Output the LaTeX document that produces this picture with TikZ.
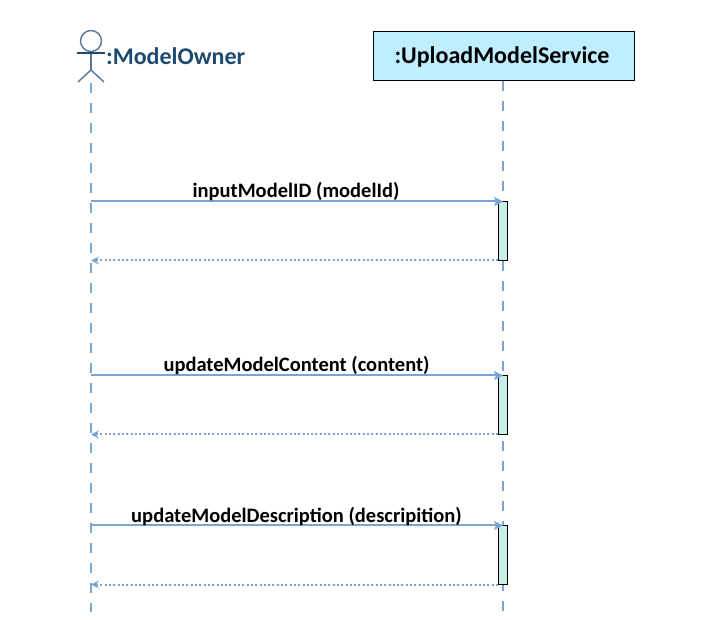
\documentclass[tikz,border=0pt]{standalone}
\usepackage{fontspec}
\setmainfont{Carlito}
\usetikzlibrary{arrows.meta}
\definecolor{lifeblue}{HTML}{7BA3D3}
\definecolor{actorblue}{HTML}{5B7596}
\definecolor{ownertext}{HTML}{1F4A70}
\definecolor{boxfill}{HTML}{BFEEFF}
\definecolor{actfill}{HTML}{C8EEE6}
\tikzset{
  lifeline/.style={draw=lifeblue,line width=2pt,dash pattern=on 10pt off 10pt},
  actorline/.style={draw=actorblue,line width=1.4pt},
  activation/.style={draw=black,fill=actfill,line width=1pt,minimum width=9pt,minimum height=59pt,inner sep=0pt,outer sep=0pt,anchor=north},
  callmsg/.style={draw=lifeblue,line width=2pt,-{Stealth[length=9pt,width=9pt,inset=2pt]}},
  retmsg/.style={draw=lifeblue,line width=2pt,dash pattern=on 2pt off 2.3pt,-{Stealth[length=8pt,width=8pt,inset=3pt,open]}},
  msglabel/.style={font=\fontsize{20.5}{24}\selectfont\bfseries,inner sep=0pt,anchor=base}
}
\begin{document}
\begin{tikzpicture}[x=1pt,y=-1pt]
\useasboundingbox (0,0) rectangle (713,620);
% actor
\node[draw=actorblue,line width=1.4pt,circle,minimum size=21pt,inner sep=0pt] (head) at (91,41) {};
\coordinate (armL) at (77,53);
\coordinate (armR) at (105,53);
\coordinate (hip) at (91,70);
\coordinate (legL) at (78,82);
\coordinate (legR) at (104,82);
\draw[actorline] (head.south) -- (hip);
\draw[draw=ownertext,line width=1.1pt] (armL) -- (armR);
\draw[actorline] (legL) -- (hip) -- (legR);
\node[font=\fontsize{24}{28}\selectfont\bfseries,text=ownertext,inner sep=0pt,anchor=base west] (owner) at (106,65) {:ModelOwner};
% service
\node[draw=black,fill=boxfill,line width=1pt,minimum width=261pt,minimum height=49pt,inner sep=0pt,outer sep=0pt] (service) at (503.5,56) {};
\node[font=\fontsize{24}{28}\selectfont\bfseries,inner sep=0pt,anchor=base] (servicetext) at (502,63.5) {:UploadModelService};
% lifelines
\coordinate (ownerEnd) at (91,612);
\coordinate (ownerStart) at (91,83);
\coordinate (serviceEnd) at (503,612);
\coordinate (serviceStart) at (503,81);
\draw[lifeline] (ownerStart) -- (ownerEnd);
\draw[lifeline] (serviceStart) -- (serviceEnd);
% activations
\node[activation] (a1) at (502.5,201.5) {};
\node[activation] (a2) at (502.5,375.5) {};
\node[activation] (a3) at (502.5,525.5) {};
% message end points on the owner lifeline
\coordinate (o1) at (91,201.5);
\coordinate (r1) at (91,260.5);
\coordinate (o2) at (91,375.5);
\coordinate (r2) at (91,434.5);
\coordinate (o3) at (91,525.5);
\coordinate (r3) at (91,584.5);
\draw[callmsg] (o1) -- (a1.north -| serviceStart);
\draw[retmsg] (a1.south west) -- (r1);
\draw[callmsg] (o2) -- (a2.north -| serviceStart);
\draw[retmsg] (a2.south west) -- (r2);
\draw[callmsg] (o3) -- (a3.north -| serviceStart);
\draw[retmsg] (a3.south west) -- (r3);
% labels
\node[msglabel] (m1) at (296,198) {inputModelID (modelId)};
\node[msglabel] (m2) at (296.5,372) {updateModelContent (content)};
\node[msglabel] (m3) at (296.5,522) {updateModelDescription (descripition)};
\end{tikzpicture}
\end{document}
